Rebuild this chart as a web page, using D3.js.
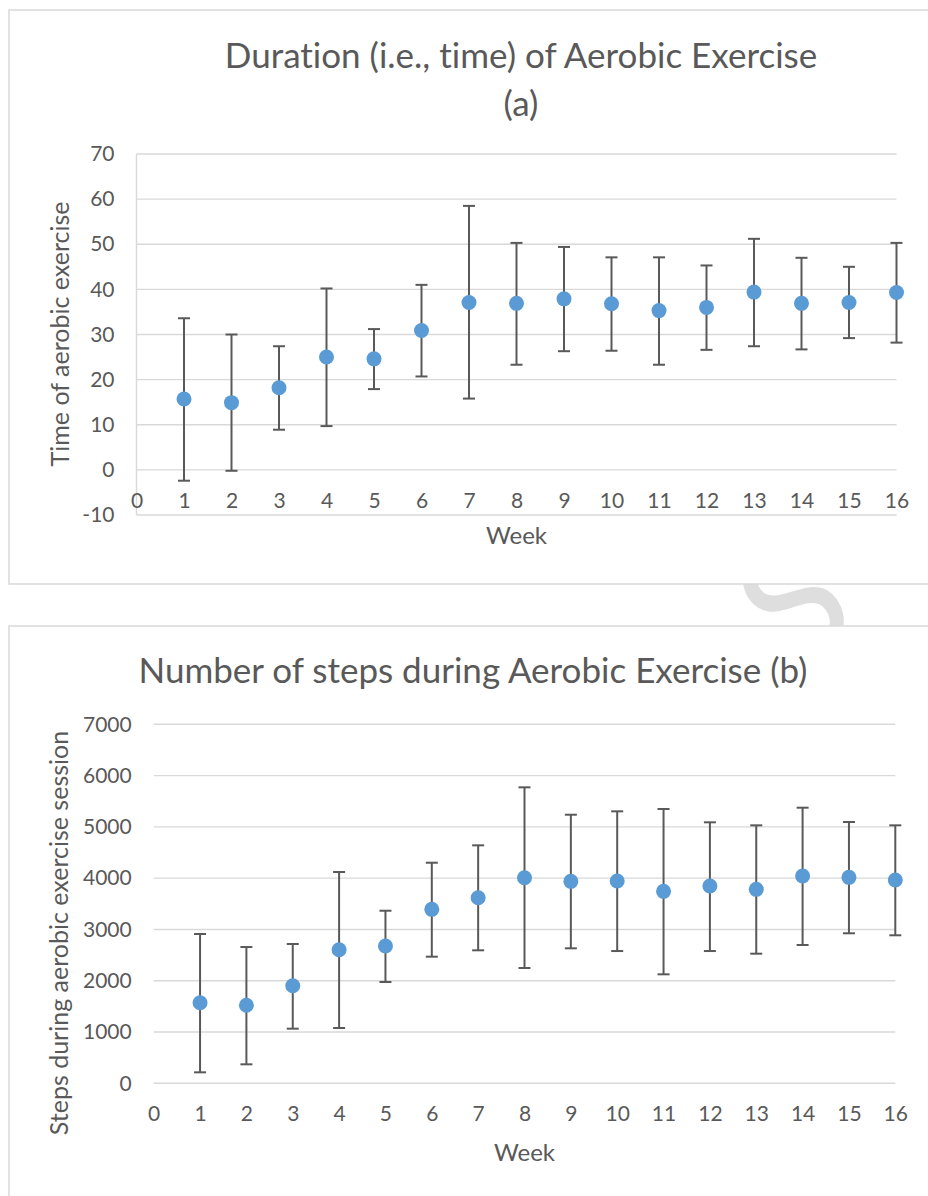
<!DOCTYPE html>
<html>
<head>
<meta charset="utf-8">
<script src="https://cdn.jsdelivr.net/npm/d3@7"></script>
<style>
  body { margin: 0; background: #fff; }
  svg text { font-family: Lato, "Open Sans", sans-serif; fill: #595959; font-variant-ligatures: none; }
</style>
</head>
<body>
<svg id="chart" width="928" height="1196"></svg>
<script>
// week numbers and tick values
let weeks      = [1, 2, 3, 4, 5, 6, 7, 8, 9, 10, 11, 12, 13, 14, 15, 16];
let weekTicks  = [0, 1, 2, 3, 4, 5, 6, 7, 8, 9, 10, 11, 12, 13, 14, 15, 16];

// (a) duration of aerobic exercise (minutes), with error bar ends
let timeMean   = [15.7, 14.9, 18.2, 25.0, 24.6, 30.9, 37.1, 36.9, 37.9, 36.8, 35.3, 36.0, 39.4, 36.9, 37.1, 39.3];
let timeUpper  = [33.6, 30.0, 27.4, 40.2, 31.2, 41.0, 58.5, 50.3, 49.4, 47.1, 47.1, 45.3, 51.2, 47.0, 45.0, 50.3];
let timeLower  = [-2.4, -0.2, 8.9, 9.7, 17.9, 20.7, 15.8, 23.3, 26.3, 26.4, 23.3, 26.6, 27.4, 26.7, 29.2, 28.2];
let timeTicks  = [-10, 0, 10, 20, 30, 40, 50, 60, 70];

// (b) steps during aerobic exercise session
let stepsMean  = [1572, 1521, 1903, 2605, 2677, 3392, 3619, 4009, 3938, 3944, 3743, 3847, 3782, 4042, 4016, 3964];
let stepsUpper = [2911, 2657, 2716, 4120, 3365, 4301, 4640, 5771, 5237, 5303, 5348, 5089, 5030, 5374, 5095, 5030];
let stepsLower = [214, 370, 1065, 1078, 1975, 2469, 2593, 2248, 2632, 2579, 2125, 2579, 2527, 2697, 2925, 2886];
let stepsTicks = [0, 1000, 2000, 3000, 4000, 5000, 6000, 7000];

let svg = d3.select("#chart");

// faint watermark letter, only its middle shows between the two panels
svg.append("text")
  .attr("x", 795).attr("y", 660)
  .attr("text-anchor", "middle")
  .attr("transform", "rotate(-35,795,605)")
  .style("font-size", "165px")
  .style("fill", "#dedede")
  .text("S");

function panel(opt) {
  let g = svg.append("g");

  // outer chart frame (white, hides the watermark)
  g.append("rect")
    .attr("x", opt.box[0]).attr("y", opt.box[1])
    .attr("width", opt.box[2]).attr("height", opt.box[3])
    .attr("fill", "#fff")
    .attr("stroke", "#d9d9d9")
    .attr("stroke-width", 1.5);

  let x = d3.scaleLinear().domain([0, 16]).range([opt.left, opt.right]);
  let y = d3.scaleLinear().domain(opt.yDomain).range([opt.bottom, opt.top]);

  // gridlines
  g.append("g").selectAll("line").data(opt.yTicks).join("line")
    .attr("x1", opt.left).attr("x2", opt.right)
    .attr("y1", d => y(d)).attr("y2", d => y(d))
    .attr("stroke", "#d9d9d9").attr("stroke-width", 1.4);

  if (opt.axisLine) {
    g.append("line")
      .attr("x1", opt.left).attr("x2", opt.left)
      .attr("y1", opt.top).attr("y2", opt.bottom)
      .attr("stroke", "#d9d9d9").attr("stroke-width", 1.4);
  }

  // y axis labels
  let ya = g.append("g")
    .attr("transform", `translate(${opt.left},0)`)
    .call(d3.axisLeft(y).tickValues(opt.yTicks).tickFormat(d => String(d)).tickSize(0).tickPadding(22));
  ya.select(".domain").remove();
  ya.selectAll("text").style("font-size", "21px").attr("fill", "#595959");

  // x axis labels, sitting under the zero line
  let xa = g.append("g")
    .attr("transform", `translate(0,${y(0) + 23})`)
    .call(d3.axisBottom(x).tickValues(weekTicks).tickFormat(d => String(d)).tickSize(0).tickPadding(0));
  xa.select(".domain").remove();
  xa.selectAll("text").style("font-size", "21px").attr("fill", "#595959");

  // error bars
  let bars = g.append("g").selectAll("g").data(weeks).join("g");
  bars.append("line")
    .attr("x1", (d) => x(d)).attr("x2", (d) => x(d))
    .attr("y1", (d, i) => y(opt.upper[i])).attr("y2", (d, i) => y(opt.lower[i]))
    .attr("stroke", "#595959").attr("stroke-width", 2);
  bars.append("line")
    .attr("x1", (d) => x(d) - 6).attr("x2", (d) => x(d) + 6)
    .attr("y1", (d, i) => y(opt.upper[i])).attr("y2", (d, i) => y(opt.upper[i]))
    .attr("stroke", "#595959").attr("stroke-width", 2);
  bars.append("line")
    .attr("x1", (d) => x(d) - 6).attr("x2", (d) => x(d) + 6)
    .attr("y1", (d, i) => y(opt.lower[i])).attr("y2", (d, i) => y(opt.lower[i]))
    .attr("stroke", "#595959").attr("stroke-width", 2);

  // mean markers
  g.append("g").selectAll("circle").data(weeks).join("circle")
    .attr("cx", (d) => x(d))
    .attr("cy", (d, i) => y(opt.mean[i]))
    .attr("r", 7.5)
    .attr("fill", "#5b9bd5");

  // titles
  opt.title.forEach(function(t, i) {
    g.append("text")
      .attr("x", opt.titleX).attr("y", opt.titleY + i * 48)
      .attr("text-anchor", "middle")
      .style("font-size", "35px")
      .text(t);
  });

  g.append("text")
    .attr("x", (opt.left + opt.right) / 2).attr("y", opt.weekY)
    .attr("text-anchor", "middle")
    .style("font-size", "24px")
    .text("Week");

  g.append("text")
    .attr("transform", `translate(${opt.yTitleX},${opt.yTitleY}) rotate(-90)`)
    .attr("text-anchor", "middle")
    .style("font-size", "25px")
    .text(opt.yTitle);
}

panel({
  box: [9, 10, 940, 574],
  left: 136.5, right: 896.5, top: 154, bottom: 515,
  yDomain: [-10, 70], yTicks: timeTicks, axisLine: true,
  mean: timeMean, upper: timeUpper, lower: timeLower,
  title: ["Duration (i.e., time) of Aerobic Exercise", "(a)"],
  titleX: 521, titleY: 68,
  weekY: 544,
  yTitle: "Time of aerobic exercise", yTitleX: 69, yTitleY: 334
});

panel({
  box: [9, 626, 940, 600],
  left: 153.7, right: 895.3, top: 724.3, bottom: 1083.3,
  yDomain: [0, 7000], yTicks: stepsTicks, axisLine: false,
  mean: stepsMean, upper: stepsUpper, lower: stepsLower,
  title: ["Number of steps during Aerobic Exercise (b)"],
  titleX: 473, titleY: 683,
  weekY: 1161,
  yTitle: "Steps during aerobic exercise session", yTitleX: 68, yTitleY: 933
});
</script>
</body>
</html>
